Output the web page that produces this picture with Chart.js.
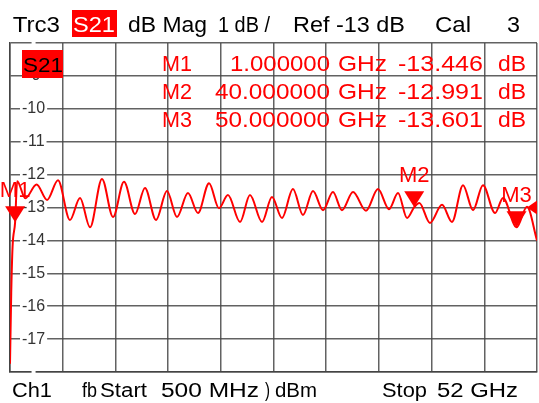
<!DOCTYPE html>
<html>
<head>
<meta charset="utf-8">
<script src="https://cdn.jsdelivr.net/npm/chart.js@4/dist/chart.umd.min.js"></script>
<style>
  html, body { margin: 0; padding: 0; background: #fff; }
  #wrap { width: 539px; height: 403px; }
</style>
</head>
<body>
<div id="wrap"><canvas id="vna"></canvas></div>
<script>
// S21 trace, frequency in GHz and magnitude in dB
var freqGHz = [0.5, 0.62, 0.75, 1.0, 1.2, 2.0, 3.1, 4.12, 5.19, 6.36, 7.34, 8.32, 9.49, 10.57,
  11.64, 12.72, 13.69, 14.77, 15.84, 16.82, 17.89, 18.87, 19.95, 20.92, 21.8, 22.98, 23.95,
  25.13, 26.1, 27.08, 28.15, 29.13, 30.11, 31.09, 32.06, 32.94, 34.02, 35.29, 36.46, 37.54,
  38.42, 39.3, 40.0, 40.5, 41.54, 42.72, 43.69, 44.77, 45.75, 46.72, 47.9, 48.68, 50.0,
  51.02, 52.0];
var magDb = [-17.75, -15.6, -14.2, -13.446, -12.2, -12.72, -12.3, -12.77, -12.17, -13.38, -12.71,
  -13.6, -12.13, -13.29, -12.22, -13.2, -12.41, -13.38, -12.5, -13.29, -12.56, -13.17, -12.26,
  -13.02, -12.62, -13.44, -12.62, -13.44, -12.68, -13.32, -12.44, -13.23, -12.5, -13.08, -12.53,
  -13.08, -12.53, -13.1, -12.44, -13.05, -12.56, -13.32, -12.991, -12.86, -13.47, -12.92, -13.44,
  -12.32, -13.08, -12.32, -13.17, -12.71, -13.601, -12.98, -14.0];

var yTicks = [-8, -9, -10, -11, -12, -13, -14, -15, -16, -17, -18];
var xGrid = [0.5, 5.65, 10.8, 15.95, 21.1, 26.25, 31.4, 36.55, 41.7, 46.85, 52];

var markerNames = ['M1', 'M2', 'M3'];
var markerFreqs = [1, 40, 50];
var markerVals = [-13.446, -12.991, -13.601];
var refLevel = -13;

var FONT = '"Liberation Sans", Arial, sans-serif';
var RED = '#ff0000';

// draw text squeezed/stretched between x0 and x1
function fitText(ctx, text, x0, x1, base, size, color) {
  ctx.save();
  ctx.font = size + 'px ' + FONT;
  var w = ctx.measureText(text).width;
  ctx.translate(x0, base);
  ctx.scale((x1 - x0) / w, 1);
  ctx.fillStyle = color;
  ctx.textAlign = 'left';
  ctx.textBaseline = 'alphabetic';
  ctx.fillText(text, 0, 0);
  ctx.restore();
}

var overlay = {
  id: 'vnaOverlay',
  afterDatasetsDraw: function(chart) {
    var ctx = chart.ctx, xs = chart.scales.x, ys = chart.scales.y;
    ctx.save();
    for (var i = 0; i < markerNames.length; i++) {
      var px = xs.getPixelForValue(markerFreqs[i]);
      var py = ys.getPixelForValue(markerVals[i]);
      ctx.fillStyle = RED;
      ctx.beginPath();
      ctx.moveTo(px - 10, py - 16);
      ctx.lineTo(px + 10, py - 16);
      ctx.lineTo(px, py);
      ctx.closePath();
      ctx.fill();
      ctx.font = '22px ' + FONT;
      ctx.textAlign = 'center';
      ctx.fillText(markerNames[i], px, py - 25);
    }
    // reference level arrow on the right edge
    var ry = ys.getPixelForValue(refLevel);
    var rx = chart.chartArea.right;
    ctx.beginPath();
    ctx.moveTo(rx - 10, ry);
    ctx.lineTo(rx, ry - 7);
    ctx.lineTo(rx, ry + 7);
    ctx.closePath();
    ctx.fill();
    ctx.restore();
  },
  afterDraw: function(chart) {
    var ctx = chart.ctx;
    // header line
    fitText(ctx, 'Trc3', 12.7, 60, 32, 22, '#000');
    ctx.fillStyle = RED;
    ctx.fillRect(72, 10, 45, 27);
    fitText(ctx, 'S21', 73, 115, 32, 22, '#fff');
    fitText(ctx, 'dB Mag', 128, 207, 32, 22, '#000');
    fitText(ctx, '1 dB /', 218, 270, 32, 22, '#000');
    fitText(ctx, 'Ref -13 dB', 293, 405, 32, 22, '#000');
    fitText(ctx, 'Cal', 435, 471, 32, 22, '#000');
    fitText(ctx, '3', 507, 520, 32, 22, '#000');

    // trace label inside the grid
    ctx.fillStyle = RED;
    ctx.fillRect(22, 50, 41, 28);
    fitText(ctx, 'S21', 23, 63, 72, 20, '#000');

    // marker table
    var rows = [71, 99, 127];
    for (var i = 0; i < markerNames.length; i++) {
      var fTxt = markerFreqs[i].toFixed(6);
      fitText(ctx, markerNames[i], 162, 192, rows[i], 22, RED);
      fitText(ctx, fTxt, fTxt.length > 8 ? 215 : 230, 330, rows[i], 22, RED);
      fitText(ctx, 'GHz', 338, 387, rows[i], 22, RED);
      fitText(ctx, markerVals[i].toFixed(3), 398, 483, rows[i], 22, RED);
      fitText(ctx, 'dB', 498, 526, rows[i], 22, RED);
    }

    // footer line
    fitText(ctx, 'Ch1', 12, 52, 397, 20, '#000');
    fitText(ctx, 'fb', 82, 97, 397, 20, '#000');
    fitText(ctx, 'Start', 100, 147, 397, 20, '#000');
    fitText(ctx, '500 MHz', 161, 259, 397, 20, '#000');
    fitText(ctx, ')', 265, 270, 397, 20, '#000');
    fitText(ctx, 'dBm', 275, 317, 397, 20, '#000');
    fitText(ctx, 'Stop', 382, 427, 397, 20, '#000');
    fitText(ctx, '52 GHz', 437, 518, 397, 20, '#000');
  }
};

var points = freqGHz.map(function(f, i) { return { x: f, y: magDb[i] }; });

new Chart(document.getElementById('vna'), {
  type: 'line',
  data: {
    datasets: [{
      label: 'S21',
      data: points,
      borderColor: RED,
      borderWidth: 2,
      pointRadius: 0,
      cubicInterpolationMode: 'monotone',
      fill: false
    }]
  },
  options: {
    responsive: true,
    maintainAspectRatio: false,
    animation: false,
    layout: { padding: { left: 10, top: 43, right: 2, bottom: 31 } },
    plugins: { legend: { display: false }, tooltip: { enabled: false } },
    scales: {
      x: {
        type: 'linear',
        min: 0.5,
        max: 52,
        afterBuildTicks: function(s) { s.ticks = xGrid.map(function(v) { return { value: v }; }); },
        afterFit: function(s) { s.height = 0; },
        ticks: { display: false },
        grid: { color: 'rgba(70,70,70,0.85)', lineWidth: 1.5, drawTicks: false },
        border: { color: '#444', width: 1.5 }
      },
      y: {
        min: -18,
        max: -8,
        afterBuildTicks: function(s) { s.ticks = yTicks.map(function(v) { return { value: v }; }); },
        afterFit: function(s) { s.width = 0; },
        ticks: {
          mirror: true,
          padding: 12,
          crossAlign: 'center',
          showLabelBackdrop: true,
          backdropColor: '#fff',
          backdropPadding: { x: 2, y: 0 },
          color: '#333',
          font: { family: FONT, size: 16 },
          callback: function(v) { return (v === -8 || v === -18) ? '' : v; }
        },
        grid: { color: 'rgba(70,70,70,0.85)', lineWidth: 1.5, drawTicks: false },
        border: { color: '#444', width: 1.5 }
      }
    }
  },
  plugins: [overlay]
});
</script>
</body>
</html>
